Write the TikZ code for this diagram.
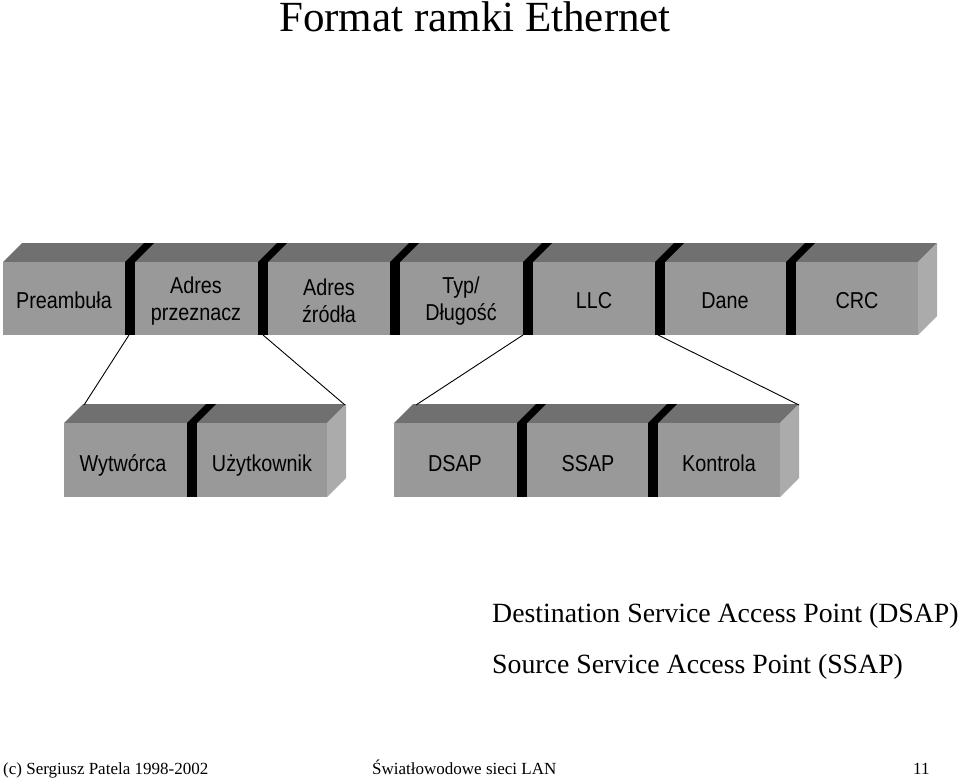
\documentclass[tikz,border=0pt]{standalone}
\usepackage{fontspec}
\setmainfont{Liberation Serif}
\newfontfamily\boxfont[FakeStretch=0.86]{Liberation Sans}
\usetikzlibrary{positioning}

\definecolor{frontgray}{gray}{0.60}
\definecolor{topgray}{gray}{0.44}
\definecolor{sidegray}{gray}{0.67}

% one bar: left x, right x, top y, bottom y
\newcommand{\framebar}[4]{%
  \fill[topgray] (#1,#3) -- ++(19,-19) -- (#2+19,#3-19) -- (#2,#3) -- cycle;
  \fill[sidegray] (#2,#3) -- ++(19,-19) -- (#2+19,#4-19) -- (#2,#4) -- cycle;
  \fill[frontgray] (#1,#3) rectangle (#2,#4);
}
% black separator: left x, top y, bottom y
\newcommand{\framesep}[3]{%
  \fill[black] (#1,#3) rectangle (#1+10,#2);
  \fill[black] (#1,#2) -- ++(19,-19) -- ++(10,0) -- (#1+10,#2) -- cycle;
}

\tikzset{
  segtext/.style={font=\boxfont\fontsize{23}{27}\selectfont, align=center, inner sep=0pt},
  segline/.style={segtext, anchor=base},
  note/.style={font=\fontsize{27.8}{32}\selectfont, inner sep=0pt, anchor=base west},
  foot/.style={font=\fontsize{17}{20}\selectfont, inner sep=0pt, anchor=base west},
  link/.style={black, line width=0.9pt}
}

\begin{document}
\begin{tikzpicture}[x=1pt, y=-1pt]
  \useasboundingbox[fill=white] (0,0) rectangle (960,778);

  % Title
  \node[font=\fontsize{43}{48}\selectfont, inner sep=0pt, anchor=base] (title) at (475,32) {Format ramki Ethernet};

  % Upper bar (Ethernet frame)
  \framebar{3}{918}{262}{335}
  \foreach \x in {125,258,390,523,655,786}
    \framesep{\x}{262}{335};

  \node[segline] (pre) at (64,308) {Preambuła};
  \node[segtext] (dst) at (196,301) {Adres\\przeznacz};
  \node[segtext] (src) at (329,301) {Adres\\źródła};
  \node[segtext] (typ) at (461,301) {Typ/\\Długość};
  \node[segline] (llc) at (594,308) {LLC};
  \node[segline] (dane) at (725,308) {Dane};
  \node[segline] (crc) at (857,308) {CRC};

  % Lower bars (address and LLC fields)
  \framebar{64}{327}{423}{497}
  \framesep{187}{423}{497}
  \framebar{394}{780}{423}{497}
  \framesep{517}{423}{497}
  \framesep{648}{423}{497}

  \node[segline] (wyt) at (123,471) {Wytwórca};
  \node[segline] (uzy) at (262,471) {Użytkownik};
  \node[segline] (dsap) at (455,471) {DSAP};
  \node[segline] (ssap) at (588,471) {SSAP};
  \node[segline] (ctl) at (719,471) {Kontrola};

  % Connector ends
  \coordinate (a1) at (129,335);
  \coordinate (a2) at (263,335);
  \coordinate (a3) at (523,335);
  \coordinate (a4) at (658,335);
  \coordinate (b1) at (84,405);
  \coordinate (b2) at (345,405);
  \coordinate (b3) at (416,405);
  \coordinate (b4) at (799,405);

  \draw[link] (a1) -- (b1);
  \draw[link] (a2) -- (b2);
  \draw[link] (a3) -- (b3);
  \draw[link] (a4) -- (b4);

  % Explanations
  \node[note] (dexp) at (492,622) {Destination Service Access Point (DSAP)};
  \node[note] (sexp) at (492,673) {Source Service Access Point (SSAP)};

  % Footer
  \node[foot] (copy) at (3,774) {(c) Sergiusz Patela 1998-2002};
  \node[foot] (lan) at (372,774) {Światłowodowe sieci LAN};
  \node[foot] (page) at (913,774) {11};
\end{tikzpicture}
\end{document}
